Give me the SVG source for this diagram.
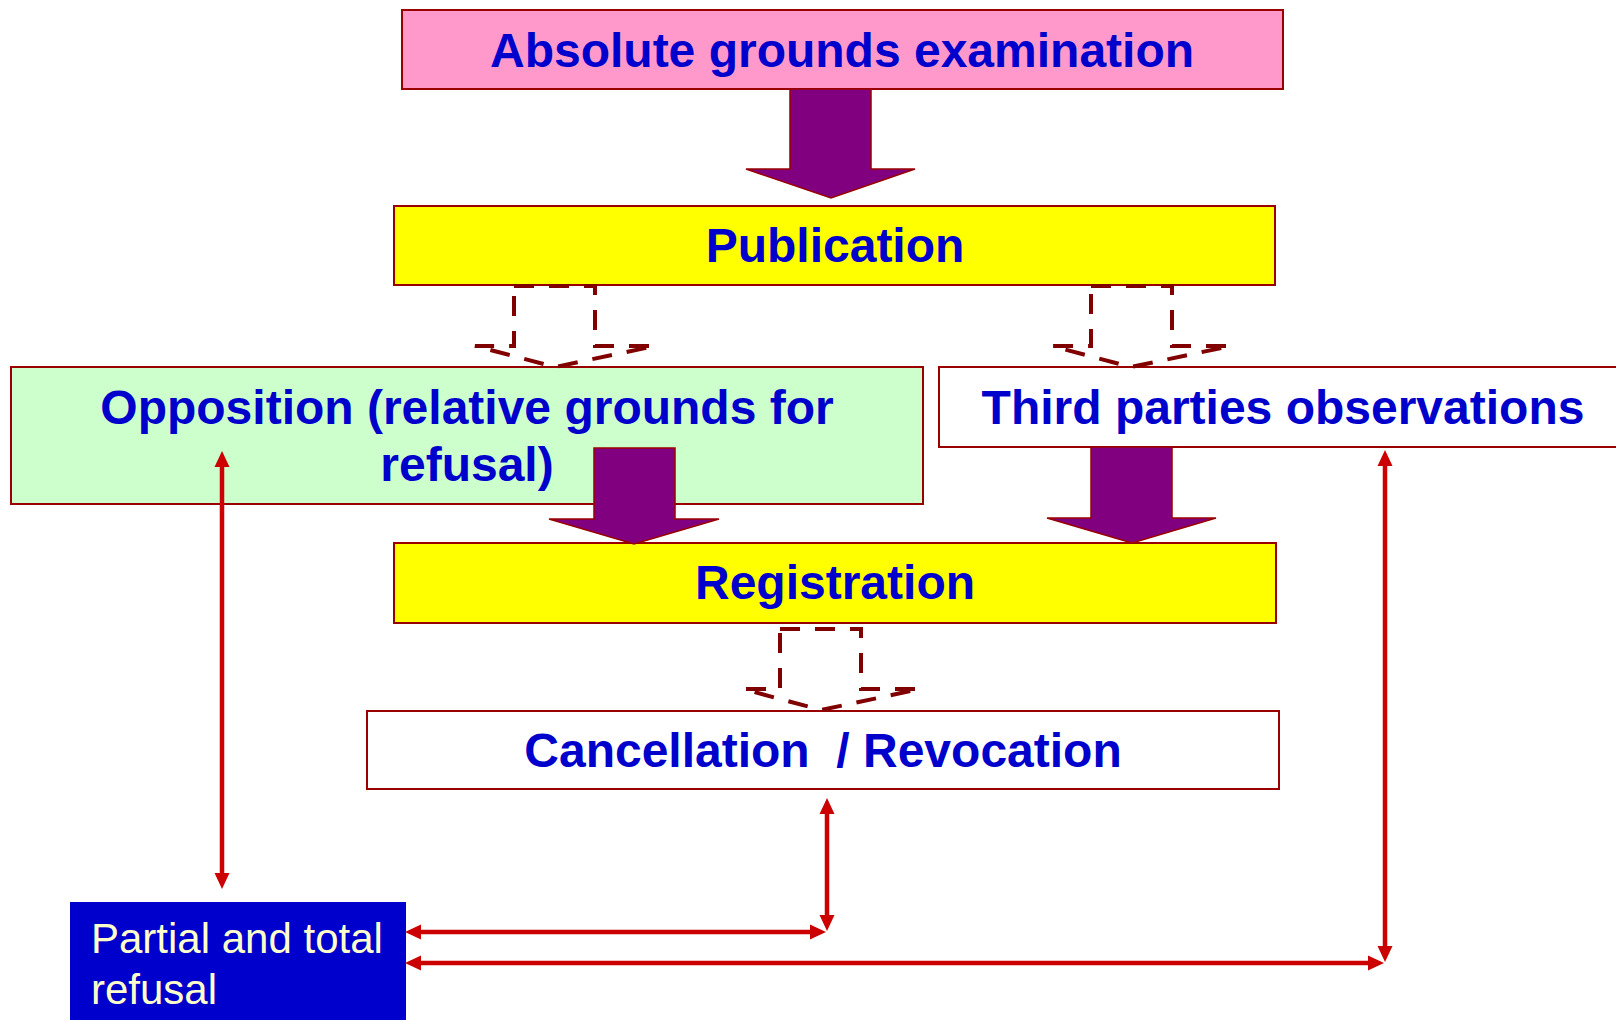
<svg xmlns="http://www.w3.org/2000/svg" width="1616" height="1020" viewBox="0 0 1616 1020">
<style>
.box{stroke:#990000;stroke-width:2}
.t{font-family:"Liberation Sans",Arial,sans-serif;font-weight:bold;font-size:48px;fill:#0000CC;text-anchor:middle;white-space:pre}
.t2{font-family:"Liberation Sans",Arial,sans-serif;font-size:42px;fill:#FFFFCC}
.solid{fill:#800080;stroke:#990000;stroke-width:1.5;stroke-linejoin:miter}
.dash{fill:none;stroke:#800000;stroke-width:4;stroke-dasharray:20 15}
.red{stroke:#CC0000;stroke-width:4.5;fill:none;marker-start:url(#ah);marker-end:url(#ah)}
</style>
<defs>
<marker id="ah" markerUnits="userSpaceOnUse" markerWidth="20" markerHeight="20" viewBox="0 -10 20 20" refX="1" refY="0" orient="auto-start-reverse">
<path d="M0,-7.5 L16,0 L0,7.5 z" fill="#CC0000"/>
</marker>
</defs>
<rect width="1616" height="1020" fill="#FFFFFF"/>

<g id="absolute">
<rect class="box" x="402" y="10" width="881" height="79" fill="#FF99CC"/>
<text class="t" x="842" y="67">Absolute grounds examination</text>
</g>
<g id="publication">
<rect class="box" x="394" y="206" width="881" height="79" fill="#FFFF00"/>
<text class="t" x="835" y="262">Publication</text>
</g>
<g id="opposition">
<rect class="box" x="11" y="367" width="912" height="137" fill="#CCFFCC"/>
<text class="t" x="467" y="424">Opposition (relative grounds for</text>
<text class="t" x="467" y="481">refusal)</text>
</g>
<g id="thirdparties">
<rect class="box" x="939" y="367" width="688" height="80" fill="#FFFFFF"/>
<text class="t" x="1283" y="424">Third parties observations</text>
</g>
<g id="registration">
<rect class="box" x="394" y="543" width="882" height="80" fill="#FFFF00"/>
<text class="t" x="835" y="599">Registration</text>
</g>
<g id="cancellation">
<rect class="box" x="367" y="711" width="912" height="78" fill="#FFFFFF"/>
<text class="t" x="823" y="767">Cancellation  / Revocation</text>
</g>
<g id="refusal">
<rect x="70" y="902" width="336" height="130" fill="#0000CC"/>
<text class="t2" x="91" y="953">Partial and total</text>
<text class="t2" x="91" y="1004">refusal</text>
</g>

<g id="connectors">
<polygon class="solid" points="790,89 871,89 871,169 915,169 831,198 746,169 790,169"/>
<polygon class="dash" points="514,286 595,286 595,346 655,346 555,367 475,346 514,346"/>
<polygon class="dash" points="1091,286 1172,286 1172,346 1231,346 1131,367 1052,346 1091,346"/>
<polygon class="solid" points="594,448 675,448 675,519 719,519 634,544 549,519 594,519"/>
<polygon class="solid" points="1091,447 1172,447 1172,518 1216,518 1132,543 1047,518 1091,518"/>
<polygon class="dash" points="780,629 861,629 861,689 920,689 821,710 743,689 780,689"/>
<line class="red" x1="222" y1="466" x2="222" y2="874"/>
<line class="red" x1="827" y1="813" x2="827" y2="916"/>
<line class="red" x1="420" y1="932" x2="811" y2="932"/>
<line class="red" x1="420" y1="963" x2="1369" y2="963"/>
<line class="red" x1="1385" y1="465" x2="1385" y2="947"/>
</g>
</svg>
